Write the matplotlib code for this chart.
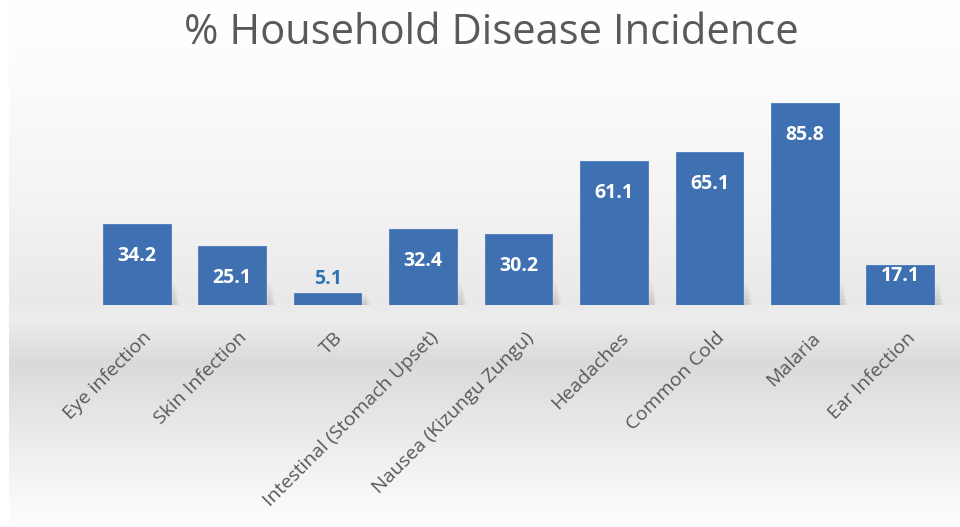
import numpy as np
import matplotlib
matplotlib.use("Agg")
import matplotlib.pyplot as plt
import matplotlib.transforms as mtransforms

# survey results, % of households
diseases = ["Eye infection", "Skin Infection", "TB", "Intestinal (Stomach Upset)",
            "Nausea (Kizungu Zungu)", "Headaches", "Common Cold", "Malaria", "Ear Infection"]
incidence = [34.2, 25.1, 5.1, 32.4, 30.2, 61.1, 65.1, 85.8, 17.1]

plt.rcParams['font.family'] = ['Open Sans', 'DejaVu Sans']

W, H, dpi = 960, 527, 100
fig = plt.figure(figsize=(W / dpi, H / dpi), dpi=dpi)

# grey band that darkens towards the tick labels and fades out to white below
bg = fig.add_axes([0, 0, 1, 1], zorder=0)
bg.set_axis_off()
ypix = np.arange(H)
stops_y = [0, 90, 200, 300, 318, 345, 362, 390, 450, 505, 527]
stops_v = [1.0, 0.985, 0.955, 0.915, 0.93, 0.885, 0.855, 0.88, 0.935, 0.98, 0.99]
shade = np.interp(ypix, stops_y, stops_v)
img = np.repeat(shade[:, None], W, axis=1)
img[:, :9] = 1.0
rgb = np.dstack([img, img, img])
bg.imshow(rgb, aspect='auto', extent=[0, 1, 0, 1], interpolation='bilinear')
bg.set_xlim(0, 1)
bg.set_ylim(0, 1)

# main axes: baseline at y=305px, 0..100 scale
ax_left, ax_right = 89 / W, 948 / W
ax_bottom = (H - 305) / H
ax_top = (H - 69.6) / H
ax = fig.add_axes([ax_left, ax_bottom, ax_right - ax_left, ax_top - ax_bottom], zorder=1)
ax.patch.set_alpha(0)
x = np.arange(len(diseases))
px = 100 / (305 - 69.6)  # data units per pixel

# soft shadow near the foot of each bar
for xi, v in zip(x, incidence):
    for k in range(6):
        h = min(v, 10) * (1 - k / 6)
        ax.bar(xi + 0.05, h, width=0.71 + 0.02 * k, bottom=-1.5 * px,
               color='#808080', alpha=0.05, linewidth=0, zorder=1)

bars = ax.bar(x, incidence, width=0.71, color='#3f70b2', edgecolor='#4a7bbd',
              linewidth=0.6, zorder=2)

ax.set_xlim(-0.5, len(diseases) - 0.5)
ax.set_ylim(0, 100)
for s in ax.spines.values():
    s.set_visible(False)
ax.set_yticks([])
ax.set_xticks(x)
ax.set_xticklabels(diseases, rotation=45, ha='right', rotation_mode='anchor',
                   color='#595959', fontsize=14)
ax.tick_params(axis='x', length=0, pad=17)
shift = mtransforms.ScaledTranslation(6 / dpi, 0, fig.dpi_scale_trans)
for lab in ax.get_xticklabels():
    lab.set_transform(lab.get_transform() + shift)

for xi, v in zip(x, incidence):
    hpx = v / px
    if hpx > 50:
        ax.text(xi, v - 32 * px, f"{v:.1f}", ha='center', va='center', color='white',
                fontsize=14, fontweight='bold', zorder=3)
    elif hpx > 25:
        ax.text(xi, v - 11 * px, f"{v:.1f}", ha='center', va='center', color='white',
                fontsize=14, fontweight='bold', zorder=3)
    else:
        ax.text(xi, v + 14 * px, f"{v:.1f}", ha='center', va='center', color='#2e74b5',
                fontsize=14, fontweight='bold', zorder=3)

fig.text(491 / W, 1 - 44 / H, "% Household Disease Incidence", ha='center', va='baseline',
         color='#595959', fontsize=30)

fig.savefig("out.png", dpi=dpi)
